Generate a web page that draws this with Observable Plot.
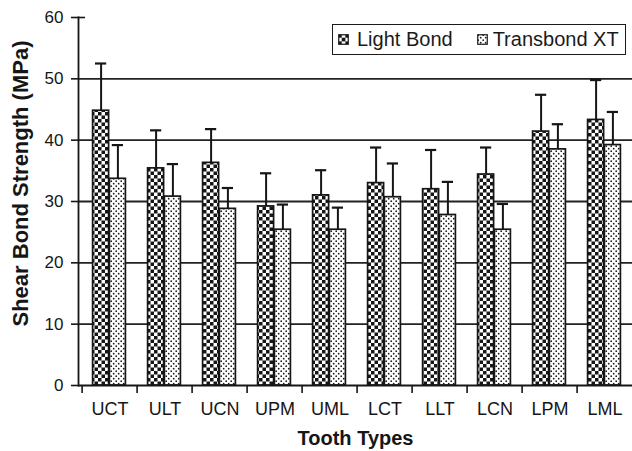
<!DOCTYPE html>
<html>
<head>
<meta charset="utf-8">
<script src="https://cdn.jsdelivr.net/npm/d3@7"></script>
<script src="https://cdn.jsdelivr.net/npm/@observablehq/plot@0.6"></script>
<style>
  body { margin: 0; background: #fff; overflow: hidden; font-family: "Liberation Sans", Arial, sans-serif; }
  #wrap { position: relative; width: 632px; height: 451px; }
  #legend { position: absolute; left: 332px; top: 24px; width: 292px; height: 29px;
    border: 1.5px solid #1a1a1a; background: #fff; display: flex; align-items: center;
    font-size: 20px; color: #1a1a1a; white-space: nowrap; }
  #legend svg { display: block; }
</style>
</head>
<body>
<div id="wrap"></div>
<script>
// ---- data ----
const categories = ["UCT", "ULT", "UCN", "UPM", "UML", "LCT", "LLT", "LCN", "LPM", "LML"];
const seriesNames = ["Light Bond", "Transbond XT"];
const lightBond   = [44.8, 35.4, 36.3, 29.2, 31.0, 33.0, 32.0, 34.4, 41.4, 43.3];
const lightBondSD = [7.7, 6.2, 5.5, 5.4, 4.1, 5.8, 6.4, 4.4, 6.0, 6.5];
const transbond   = [33.7, 30.8, 28.8, 25.4, 25.4, 30.7, 27.8, 25.4, 38.5, 39.2];
const transbondSD = [5.5, 5.3, 3.4, 4.1, 3.6, 5.5, 5.4, 4.2, 4.1, 5.4];
const yTicks = [0, 10, 20, 30, 40, 50, 60];
const gridValues = [10, 20, 30, 40, 50];
const xTitle = "Tooth Types";
const yTitle = "Shear Bond Strength (MPa)";

// ---- table ----
const rows = categories.map((c, i) => ({
  c, lb: lightBond[i], lbsd: lightBondSD[i], tb: transbond[i], tbsd: transbondSD[i]
}));

const W = 632, H = 451, ML = 78, BW = 55.8;
const ink = "#161616";

const chart = Plot.plot({
  width: W, height: H,
  marginLeft: ML, marginRight: 0, marginTop: 17, marginBottom: 66,
  style: { fontFamily: "'Liberation Sans', Arial, sans-serif", color: ink, background: "#fff", overflow: "hidden" },
  x: { domain: categories, range: [ML, ML + BW * 10], padding: 0 },
  y: { domain: [0, 60] },
  marks: [
    Plot.ruleY(gridValues, { stroke: "#222", strokeWidth: 1.8 }),
    Plot.ruleY([60], { insetRight: W - ML - 7, stroke: ink, strokeWidth: 1.6 }),
    Plot.barY(rows, { x: "c", y: "lb", fill: "url(#pat-lb)", stroke: ink, strokeWidth: 1.7, insetLeft: 10.6, insetRight: 28.4 }),
    Plot.barY(rows, { x: "c", y: "tb", fill: "url(#pat-tb)", stroke: ink, strokeWidth: 1.7, insetLeft: 27.4, insetRight: 11.6 }),
    Plot.ruleX(rows, { x: "c", y1: "lb", y2: d => d.lb + d.lbsd, dx: -8.9, stroke: ink, strokeWidth: 2 }),
    Plot.ruleX(rows, { x: "c", y1: "tb", y2: d => d.tb + d.tbsd, dx: 7.9, stroke: ink, strokeWidth: 2 }),
    Plot.tickY(rows, { x: "c", y: d => d.lb + d.lbsd, insetLeft: 13, insetRight: 30.8, stroke: ink, strokeWidth: 2.2 }),
    Plot.tickY(rows, { x: "c", y: d => d.tb + d.tbsd, insetLeft: 29.8, insetRight: 14, stroke: ink, strokeWidth: 2.2 }),
    Plot.ruleY([0], { stroke: ink, strokeWidth: 1.8 }),
    Plot.axisY({ ticks: yTicks, tickSize: 7, tickPadding: 8, fontSize: 17, label: null, stroke: ink, strokeWidth: 1.6 }),
    Plot.axisX({ tickSize: 8, text: null, dx: -BW / 2, label: null, stroke: ink, strokeWidth: 1.6 }),
    Plot.axisX({ tickSize: 0, tickPadding: 17, fontSize: 18, label: null }),
    Plot.frame({ anchor: "left", stroke: ink, strokeWidth: 1.8 }),
    Plot.text([yTitle], { frameAnchor: "left", textAnchor: "middle", lineAnchor: "middle", rotate: -90, dx: -58, dy: -18, fontSize: 22, fontWeight: "bold", fill: ink }),
    Plot.text([xTitle], { frameAnchor: "bottom", textAnchor: "middle", lineAnchor: "middle", dy: 53, fontSize: 20, fontWeight: "bold", fill: ink })
  ]
});

// pattern definitions
const ns = "http://www.w3.org/2000/svg";
function addPatterns(svgEl, prefix, sq) {
  const defs = d3.select(svgEl).insert("defs", ":first-child");
  const p1 = defs.append("pattern").attr("id", prefix + "lb").attr("patternUnits", "userSpaceOnUse")
    .attr("width", sq * 2).attr("height", sq * 2);
  p1.append("rect").attr("width", sq * 2).attr("height", sq * 2).attr("fill", "#fff");
  p1.append("rect").attr("width", sq).attr("height", sq).attr("fill", ink);
  p1.append("rect").attr("x", sq).attr("y", sq).attr("width", sq).attr("height", sq).attr("fill", ink);
  const p2 = defs.append("pattern").attr("id", prefix + "tb").attr("patternUnits", "userSpaceOnUse")
    .attr("width", 5).attr("height", 5);
  p2.append("rect").attr("width", 5).attr("height", 5).attr("fill", "#fff");
  p2.append("circle").attr("cx", 1.2).attr("cy", 1.2).attr("r", 0.85).attr("fill", ink);
  p2.append("circle").attr("cx", 3.7).attr("cy", 3.7).attr("r", 0.85).attr("fill", ink);
}
addPatterns(chart, "pat-", 3.5);

const wrap = document.getElementById("wrap");
wrap.appendChild(chart);

// legend
const legend = document.createElement("div");
legend.id = "legend";
const fills = ["url(#lg-lb)", "url(#lg-tb)"];
const swMargins = [["5px", "8px"], ["24px", "5px"]];
seriesNames.forEach((name, i) => {
  const sw = document.createElementNS(ns, "svg");
  sw.setAttribute("width", 11); sw.setAttribute("height", 11);
  sw.style.marginLeft = swMargins[i][0];
  sw.style.marginRight = swMargins[i][1];
  if (i === 0) addPatterns(sw, "lg-", 3.7);
  const r = document.createElementNS(ns, "rect");
  r.setAttribute("x", 0.75); r.setAttribute("y", 0.75);
  r.setAttribute("width", 9.5); r.setAttribute("height", 9.5);
  r.setAttribute("fill", fills[i]); r.setAttribute("stroke", ink); r.setAttribute("stroke-width", 1.2);
  sw.appendChild(r);
  legend.appendChild(sw);
  const t = document.createElement("span");
  t.textContent = name;
  legend.appendChild(t);
});
wrap.appendChild(legend);
</script>
</body>
</html>
